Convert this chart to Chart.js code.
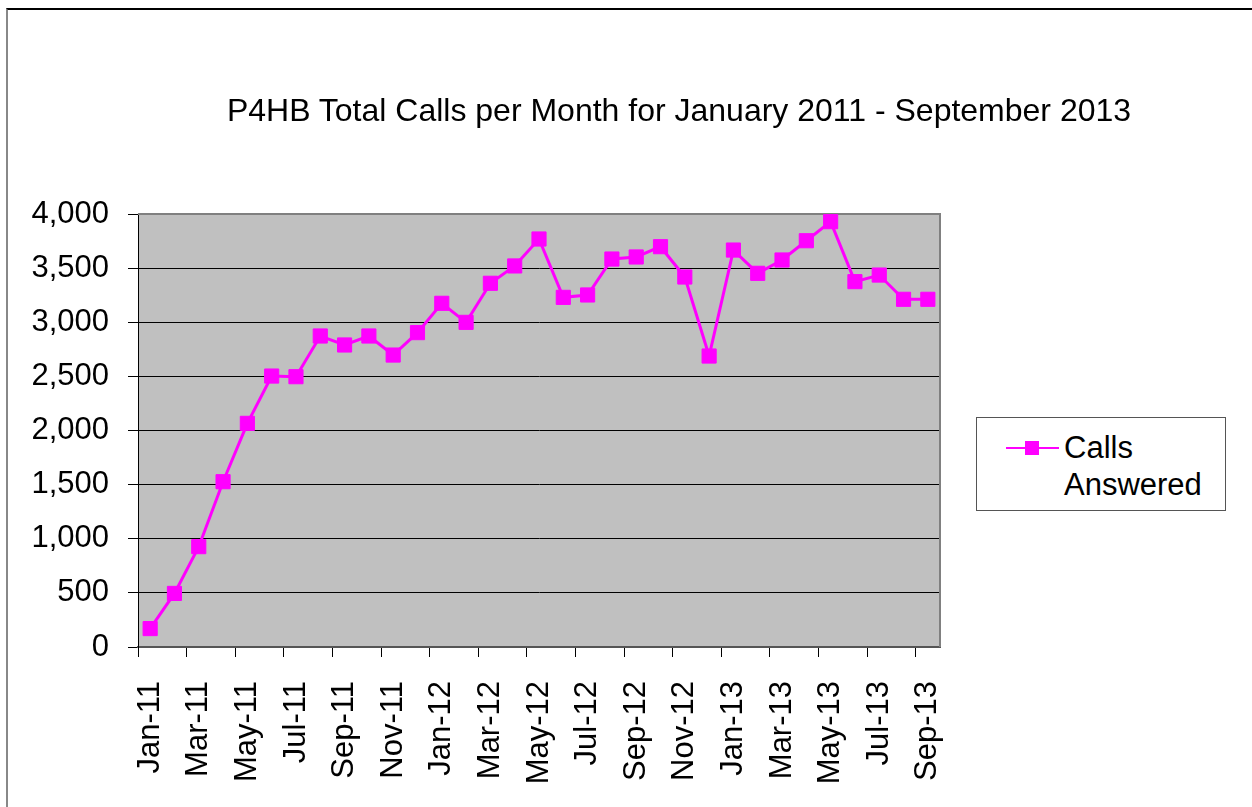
<!DOCTYPE html>
<html>
<head>
<meta charset="utf-8">
<script src="https://cdn.jsdelivr.net/npm/chart.js@4"></script>
<style>
  body { margin: 0; background: #fff; font-family: "Liberation Sans", Arial, sans-serif; }
  #wrap { position: relative; width: 1252px; height: 807px; overflow: hidden; }
  #frame { position: absolute; left: 6px; top: 8px; width: 1400px; height: 900px;
           border-top: 2px solid #000; border-left: 2px solid #888; }
  #title { position: absolute; left: 0; width: 1358px; top: 90px; text-align: center;
           font-size: 32px; line-height: 40px; color: #000; }
  #legend { position: absolute; left: 976px; top: 417px; width: 248px; height: 92px;
            border: 1px solid #555; background: #fff; }
  #legend .line { position: absolute; left: 29px; top: 29px; width: 53px; height: 2px; background: #ff00ff; }
  #legend .mark { position: absolute; left: 48px; top: 23px; width: 14px; height: 14px; background: #ff00ff; }
  #legend .text { position: absolute; left: 87px; top: 11px; width: 156px;
                  font-size: 31px; line-height: 37px; color: #000; }
  canvas { position: absolute; left: 0; top: 0; }
</style>
</head>
<body>
<div id="wrap">
  <div id="frame"></div>
  <canvas id="myChart" width="1252" height="807"></canvas>
  <div id="title">P4HB Total Calls per Month for January 2011 - September 2013</div>
  <div id="legend"></div>
</div>
<script>
const months = ['Jan-11', 'Feb-11', 'Mar-11', 'Apr-11', 'May-11', 'Jun-11', 'Jul-11', 'Aug-11', 'Sep-11', 'Oct-11', 'Nov-11', 'Dec-11',
    'Jan-12', 'Feb-12', 'Mar-12', 'Apr-12', 'May-12', 'Jun-12', 'Jul-12', 'Aug-12', 'Sep-12', 'Oct-12', 'Nov-12', 'Dec-12',
    'Jan-13', 'Feb-13', 'Mar-13', 'Apr-13', 'May-13', 'Jun-13', 'Jul-13', 'Aug-13', 'Sep-13'];
const callsAnswered = [170, 495, 927, 1527, 2066, 2503, 2497, 2873, 2790, 2873, 2697, 2904,
    3175, 2999, 3360, 3520, 3769, 3230, 3252, 3584, 3603, 3698, 3418, 2688,
    3667, 3452, 3575, 3753, 3929, 3375, 3436, 3212, 3212];
const seriesLabel = 'Calls Answered';
const yTicks = [0, 500, 1000, 1500, 2000, 2500, 3000, 3500, 4000];

const magenta = '#ff00ff';
const ctx = document.getElementById('myChart');

// grey plot background + grey top/right edge, like the old Excel chart
const plotArea = {
    id: 'plotArea',
    beforeDraw(chart) {
        const { ctx, chartArea: a } = chart;
        ctx.save();
        ctx.fillStyle = '#c0c0c0';
        ctx.fillRect(a.left, a.top, a.right - a.left, a.bottom - a.top);
        ctx.restore();
    },
    beforeDatasetsDraw(chart) {
        const { ctx, chartArea: a } = chart;
        ctx.save();
        ctx.strokeStyle = '#808080';
        ctx.lineWidth = 2;
        ctx.beginPath();
        ctx.moveTo(a.left, a.top);
        ctx.lineTo(a.right, a.top);
        ctx.lineTo(a.right, a.bottom);
        ctx.stroke();
        ctx.restore();
    }
};

const chart = new Chart(ctx, {
    type: 'line',
    data: {
        labels: months,
        datasets: [{
            label: seriesLabel,
            data: callsAnswered,
            borderColor: magenta,
            backgroundColor: magenta,
            borderWidth: 3,
            pointStyle: 'rect',
            pointRadius: 10,
            pointBorderWidth: 1,
            pointHoverRadius: 10,
            tension: 0
        }]
    },
    plugins: [plotArea],
    options: {
        responsive: false,
        animation: false,
        layout: { padding: { top: 214, right: 312, left: 0, bottom: 0 } },
        plugins: {
            legend: { display: false },
            title: { display: false },
            tooltip: { enabled: false }
        },
        scales: {
            x: {
                offset: true,
                afterFit: (s) => { s.height = 160; },
                grid: {
                    offset: true,
                    drawOnChartArea: false,
                    tickLength: 10,
                    tickColor: (c) => c.index % 2 === 0 ? '#000' : 'rgba(0,0,0,0)'
                },
                border: { color: '#555', width: 2 },
                ticks: {
                    autoSkip: false,
                    maxRotation: 90,
                    minRotation: 90,
                    padding: 24,
                    color: '#000',
                    font: { family: 'Liberation Sans', size: 31 },
                    callback: function (val, i) { return i % 2 === 0 ? this.getLabelForValue(val) : ''; }
                }
            },
            y: {
                min: 0,
                max: 4000,
                afterFit: (s) => { s.width = 138; },
                afterBuildTicks: (s) => { s.ticks = yTicks.map(v => ({ value: v })); },
                grid: { color: '#000', lineWidth: 1, tickLength: 10 },
                border: { color: '#000', width: 1 },
                ticks: {
                    padding: 19,
                    color: '#000',
                    font: { family: 'Liberation Sans', size: 31 },
                    callback: (v) => v.toLocaleString('en-US')
                }
            }
        }
    }
});

// legend built from the dataset
const ds = chart.data.datasets[0];
document.getElementById('legend').innerHTML =
    '<div class="line" style="background:' + ds.borderColor + '"></div>' +
    '<div class="mark" style="background:' + ds.backgroundColor + '"></div>' +
    '<div class="text">' + ds.label + '</div>';
</script>
</body>
</html>
